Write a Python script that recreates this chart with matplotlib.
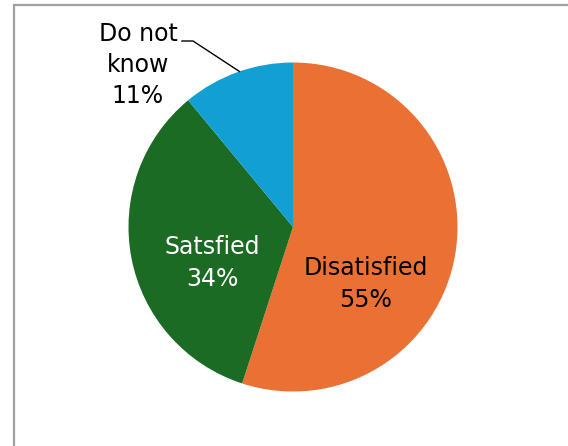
import numpy as np
import matplotlib
matplotlib.use("Agg")
import matplotlib.pyplot as plt
from matplotlib.patches import Rectangle

labels = ["Disatisfied", "Satsfied", "Do not\nknow"]
values = [55, 34, 11]
colors = ["#EA7133", "#1B6B25", "#119FD4"]
text_colors = ["black", "white", "black"]

W, H = 568, 446
fig = plt.figure(figsize=(W / 100, H / 100), dpi=100)
ax = fig.add_axes([0, 0, 1, 1])

cx, cy, r = 293, H - 227, 164.5
ax.pie(values, colors=colors, startangle=90, counterclock=False,
       center=(cx, cy), radius=r, wedgeprops=dict(linewidth=0))
ax.set_xlim(0, W)
ax.set_ylim(0, H)
ax.set_aspect("auto")
ax.axis("off")

# frame around the chart area (runs off right/bottom edges)
ax.add_patch(Rectangle((14, -20), W + 40, H - 5 + 20, fill=False,
                       edgecolor="#a0a0a0", linewidth=1.6, zorder=0))

fs = 17
offsets = [(73, -57), (-81, -36)]
for i in range(2):
    ax.text(cx + offsets[i][0], cy + offsets[i][1], f"{labels[i]}\n{values[i]}%",
            ha="center", va="center", fontsize=fs, color=text_colors[i],
            linespacing=1.38, family="DejaVu Sans")

# outside label with leader line for the small slice
ax.text(cx - 155, cy + 162, f"{labels[2]}\n{values[2]}%", ha="center", va="center",
        fontsize=fs, color="black", linespacing=1.38, family="DejaVu Sans",
        multialignment="center")
ang = np.deg2rad(109)
ex, ey = cx + r * np.cos(ang), cy + r * np.sin(ang)
ax.plot([cx - 111, cx - 100, ex], [cy + 186, cy + 186, ey], color="black", lw=1)

fig.savefig("out.png", dpi=100)
